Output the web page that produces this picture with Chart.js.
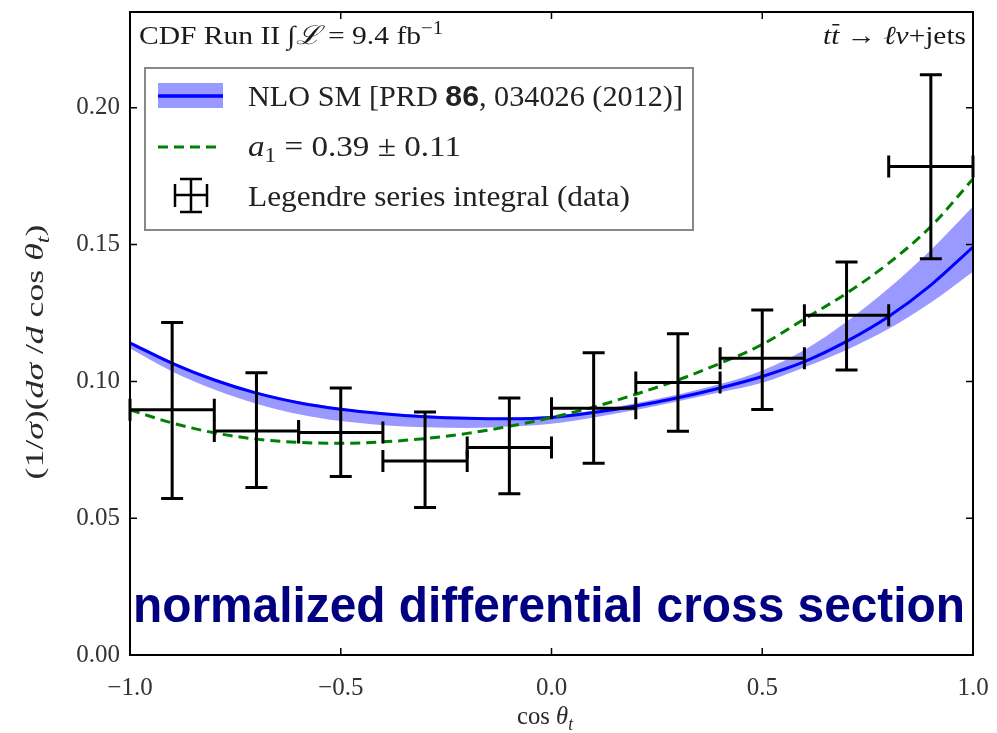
<!DOCTYPE html>
<html>
<head>
<meta charset="utf-8">
<title>normalized differential cross section</title>
<script src="https://cdn.jsdelivr.net/npm/chart.js@4.4.1/dist/chart.umd.min.js"></script>
<style>
  html, body { margin: 0; padding: 0; background: #fff; }
  #plot { display: block; }
</style>
</head>
<body>
<canvas id="plot" width="997" height="733"></canvas>
<script>
// cos(theta_t) sampling of the theory curves
const xGrid = [-1.0, -0.9, -0.8, -0.7, -0.6, -0.5, -0.4, -0.3, -0.2, -0.1, 0.0,
               0.1, 0.2, 0.3, 0.4, 0.5, 0.6, 0.7, 0.8, 0.9, 1.0];

// NLO SM prediction: central value and uncertainty band
const nloCentral = [0.1140, 0.1066, 0.1005, 0.0957, 0.0922, 0.0898, 0.0882, 0.0871, 0.0865, 0.0863, 0.0868,
                    0.0886, 0.0910, 0.0940, 0.0976, 0.1018, 0.1072, 0.1146, 0.1237, 0.1352, 0.1491];
const nloUpper   = [0.1148, 0.1073, 0.1011, 0.0963, 0.0927, 0.0903, 0.0887, 0.0876, 0.0870, 0.0868, 0.0874,
                    0.0894, 0.0920, 0.0952, 0.0990, 0.1040, 0.1115, 0.1218, 0.1340, 0.1480, 0.1639];
const nloLower   = [0.1120, 0.1036, 0.0970, 0.0918, 0.0880, 0.0855, 0.0840, 0.0832, 0.0830, 0.0835, 0.0845,
                    0.0868, 0.0895, 0.0927, 0.0960, 0.0995, 0.1052, 0.1115, 0.1192, 0.1288, 0.1401];

// Legendre fit with a1 = 0.39
const a1Curve    = [0.0896, 0.0848, 0.0812, 0.0789, 0.0777, 0.0774, 0.0779, 0.0791, 0.0810, 0.0836, 0.0868,
                    0.0906, 0.0953, 0.1005, 0.1066, 0.1135, 0.1228, 0.1322, 0.1432, 0.1566, 0.1740];

// Measured bins (Legendre series integral)
const binCenters  = [-0.9, -0.7, -0.5, -0.3, -0.1, 0.1, 0.3, 0.5, 0.7, 0.9];
const binHalfWidth = [0.1, 0.1, 0.1, 0.1, 0.1, 0.1, 0.1, 0.1, 0.1, 0.1];
const measured    = [0.0896, 0.0819, 0.0813, 0.0709, 0.0758, 0.0902, 0.0996, 0.1085, 0.1242, 0.1785];
const measuredHigh = [0.1215, 0.1032, 0.0976, 0.0888, 0.0939, 0.1105, 0.1174, 0.1261, 0.1436, 0.2121];
const measuredLow  = [0.0572, 0.0612, 0.0652, 0.0539, 0.0589, 0.0701, 0.0818, 0.0897, 0.1042, 0.1448];

// axis ticks
const xTicks = [-1.0, -0.5, 0.0, 0.5, 1.0];
const yTicks = [0.00, 0.05, 0.10, 0.15, 0.20];

const BAND = 'rgba(0, 0, 255, 0.4)';
const BLUE = '#0000ff';
const GREEN = '#008000';
const SERIF = '"Liberation Serif", "DejaVu Serif", serif';

function pts(xs, ys) {
  return xs.map((x, i) => ({ x: x, y: ys[i] }));
}

// draw a run of text pieces {t, it, bold, sans, sub, sup, bar};
// optional width stretches the run horizontally to that size
function richText(ctx, parts, x, y, size, align, width) {
  const fontOf = p => {
    const s = (p.sub || p.sup) ? size * 0.7 : size;
    const fam = p.sans ? '"Liberation Sans", sans-serif' : SERIF;
    return (p.it ? 'italic ' : '') + (p.bold ? 'bold ' : '') + s + 'px ' + fam;
  };
  let total = 0;
  parts.forEach(p => { ctx.font = fontOf(p); p.w = ctx.measureText(p.t).width; total += p.w; });
  const k = width ? width / total : 1;
  const full = total * k;
  const x0 = align === 'center' ? x - full / 2 : (align === 'right' ? x - full : x);
  ctx.save();
  ctx.translate(x0, y);
  ctx.scale(k, 1);
  ctx.textAlign = 'left';
  ctx.textBaseline = 'alphabetic';
  let cx = 0;
  parts.forEach(p => {
    ctx.font = fontOf(p);
    let dy = 0;
    if (p.sub) dy = size * 0.22;
    if (p.sup) dy = -size * 0.4;
    ctx.fillText(p.t, cx, dy);
    if (p.bar) {
      ctx.lineWidth = 1.5;
      ctx.beginPath();
      ctx.moveTo(cx + 1, -size * 0.74);
      ctx.lineTo(cx + p.w, -size * 0.74);
      ctx.stroke();
    }
    cx += p.w;
  });
  ctx.restore();
}

// error bars, frame, inward ticks and text
const decorations = {
  id: 'decorations',
  afterDatasetsDraw(chart) {
    const { ctx, chartArea: a, scales: { x, y } } = chart;
    ctx.save();

    // error bars
    ctx.strokeStyle = '#000';
    ctx.lineWidth = 3;
    const cap = 11;
    binCenters.forEach((c, i) => {
      const px = x.getPixelForValue(c);
      const py = y.getPixelForValue(measured[i]);
      const yHi = y.getPixelForValue(measuredHigh[i]);
      const yLo = y.getPixelForValue(measuredLow[i]);
      const xL = x.getPixelForValue(c - binHalfWidth[i]);
      const xR = Math.min(x.getPixelForValue(c + binHalfWidth[i]), a.right);
      ctx.beginPath();
      ctx.moveTo(px, yHi); ctx.lineTo(px, yLo);
      ctx.moveTo(xL, py); ctx.lineTo(xR, py);
      ctx.moveTo(px - cap, yHi); ctx.lineTo(px + cap, yHi);
      ctx.moveTo(px - cap, yLo); ctx.lineTo(px + cap, yLo);
      ctx.moveTo(xL, py - cap); ctx.lineTo(xL, py + cap);
      ctx.moveTo(xR, py - cap); ctx.lineTo(xR, py + cap);
      ctx.stroke();
    });

    // frame
    ctx.lineWidth = 2;
    ctx.strokeRect(a.left, a.top, a.right - a.left, a.bottom - a.top);

    // inward ticks on all four sides
    ctx.lineWidth = 1.5;
    const tl = 7;
    ctx.beginPath();
    xTicks.forEach(v => {
      const px = x.getPixelForValue(v);
      ctx.moveTo(px, a.bottom); ctx.lineTo(px, a.bottom - tl);
      ctx.moveTo(px, a.top); ctx.lineTo(px, a.top + tl);
    });
    yTicks.forEach(v => {
      const py = y.getPixelForValue(v);
      ctx.moveTo(a.left, py); ctx.lineTo(a.left + tl, py);
      ctx.moveTo(a.right, py); ctx.lineTo(a.right - tl, py);
    });
    ctx.stroke();
    ctx.restore();
  },
  afterDraw(chart) {
    const { ctx } = chart;
    ctx.save();
    ctx.fillStyle = '#1a1a1a';
    ctx.strokeStyle = '#1a1a1a';

    // header texts
    richText(ctx, [
      { t: 'CDF Run II ' }, { t: '∫', it: true }, { t: 'ℒ', it: true }, { t: ' = 9.4 fb' }, { t: '−1', sup: true }
    ], 139, 44, 26, 'left', 304);
    richText(ctx, [
      { t: 't', it: true }, { t: 't', it: true, bar: true }, { t: ' → ' }, { t: 'ℓν', it: true }, { t: '+jets' }
    ], 966, 44, 26, 'right', 143);

    // legend box
    const lx = 145, ly = 68, lw = 548, lh = 162;
    ctx.fillStyle = '#fff';
    ctx.fillRect(lx, ly, lw, lh);
    ctx.strokeStyle = '#888';
    ctx.lineWidth = 2;
    ctx.strokeRect(lx, ly, lw, lh);

    // band + line symbol
    ctx.fillStyle = BAND;
    ctx.fillRect(158, 83, 65, 25);
    ctx.strokeStyle = BLUE;
    ctx.lineWidth = 3.5;
    ctx.beginPath(); ctx.moveTo(158, 96); ctx.lineTo(223, 96); ctx.stroke();

    // dashed symbol
    ctx.strokeStyle = GREEN;
    ctx.lineWidth = 3;
    ctx.setLineDash([10, 6]);
    ctx.beginPath(); ctx.moveTo(158, 147); ctx.lineTo(222, 147); ctx.stroke();
    ctx.setLineDash([]);

    // errorbar symbol
    ctx.strokeStyle = '#000';
    ctx.lineWidth = 2.5;
    ctx.beginPath();
    ctx.moveTo(191, 179); ctx.lineTo(191, 212);
    ctx.moveTo(180, 179); ctx.lineTo(202, 179);
    ctx.moveTo(180, 212); ctx.lineTo(202, 212);
    ctx.moveTo(175, 195); ctx.lineTo(207, 195);
    ctx.moveTo(175, 184); ctx.lineTo(175, 207);
    ctx.moveTo(207, 184); ctx.lineTo(207, 207);
    ctx.stroke();

    ctx.fillStyle = '#222';
    richText(ctx, [
      { t: 'NLO SM [PRD ' }, { t: '86', bold: true, sans: true }, { t: ', 034026 (2012)]' }
    ], 248, 106, 29, 'left', 435);
    richText(ctx, [
      { t: 'a', it: true }, { t: '1', sub: true }, { t: ' = 0.39 ± 0.11' }
    ], 248, 156, 29, 'left', 213);
    richText(ctx, [{ t: 'Legendre series integral (data)' }], 248, 206, 29, 'left', 382);

    // axis titles
    ctx.fillStyle = '#2a2a2a';
    richText(ctx, [
      { t: 'cos ' }, { t: 'θ', it: true }, { t: 't', it: true, sub: true }
    ], 545, 724, 26, 'center', 56);
    ctx.save();
    ctx.translate(43, 352);
    ctx.rotate(-Math.PI / 2);
    richText(ctx, [
      { t: '(1/' }, { t: 'σ', it: true }, { t: ')(' }, { t: 'dσ', it: true }, { t: ' /' },
      { t: 'd', it: true }, { t: ' cos ' }, { t: 'θ', it: true }, { t: 't', it: true, sub: true }, { t: ')' }
    ], 0, 0, 26, 'center', 255);
    ctx.restore();

    // overlay caption
    ctx.fillStyle = '#000080';
    ctx.font = 'bold 50px "Liberation Sans", Arial, sans-serif';
    ctx.textAlign = 'left';
    ctx.textBaseline = 'alphabetic';
    const caption = 'normalized differential cross section';
    const cw = ctx.measureText(caption).width;
    ctx.save();
    ctx.translate(133, 622);
    ctx.scale(832 / cw, 1);
    ctx.fillText(caption, 0, 0);
    ctx.restore();

    ctx.restore();
  }
};

const tickFont = { family: SERIF, size: 25 };

// keep the plot box fixed: no extra room for edge labels
function noScalePadding(s) {
  s.paddingLeft = 0; s.paddingRight = 0; s.paddingTop = 0; s.paddingBottom = 0;
}

new Chart(document.getElementById('plot'), {
  type: 'line',
  data: {
    datasets: [
      {
        label: 'NLO band upper',
        data: pts(xGrid, nloUpper),
        borderWidth: 0,
        pointRadius: 0,
        backgroundColor: BAND,
        fill: '+1',
        cubicInterpolationMode: 'monotone',
        order: 5
      },
      {
        label: 'NLO band lower',
        data: pts(xGrid, nloLower),
        borderWidth: 0,
        pointRadius: 0,
        fill: false,
        cubicInterpolationMode: 'monotone',
        order: 5
      },
      {
        label: 'NLO SM',
        data: pts(xGrid, nloCentral),
        borderColor: BLUE,
        borderWidth: 3,
        pointRadius: 0,
        fill: false,
        cubicInterpolationMode: 'monotone',
        order: 3
      },
      {
        label: 'a1 = 0.39',
        data: pts(xGrid, a1Curve),
        borderColor: GREEN,
        borderWidth: 3,
        borderDash: [10, 6],
        pointRadius: 0,
        fill: false,
        cubicInterpolationMode: 'monotone',
        order: 2
      },
      {
        type: 'scatter',
        label: 'data',
        data: pts(binCenters, measured),
        pointRadius: 0,
        order: 1
      }
    ]
  },
  options: {
    responsive: false,
    animation: false,
    layout: { padding: { top: 12, right: 24, bottom: 0, left: 0 } },
    plugins: {
      legend: { display: false },
      tooltip: { enabled: false }
    },
    scales: {
      x: {
        type: 'linear',
        min: -1,
        max: 1,
        afterBuildTicks: s => { s.ticks = xTicks.map(v => ({ value: v })); },
        afterFit: s => { s.height = 78; noScalePadding(s); },
        grid: { display: false, drawTicks: false },
        border: { display: false },
        ticks: {
          padding: 18,
          color: '#333',
          font: tickFont,
          maxRotation: 0,
          callback: v => (v < 0 ? '−' : '') + Math.abs(v).toFixed(1)
        }
      },
      y: {
        type: 'linear',
        min: 0,
        max: 0.235,
        afterBuildTicks: s => { s.ticks = yTicks.map(v => ({ value: v })); },
        afterFit: s => { s.width = 130; noScalePadding(s); },
        grid: { display: false, drawTicks: false },
        border: { display: false },
        ticks: {
          padding: 10,
          color: '#333',
          font: tickFont,
          callback: v => v.toFixed(2)
        }
      }
    }
  },
  plugins: [decorations]
});
</script>
</body>
</html>
